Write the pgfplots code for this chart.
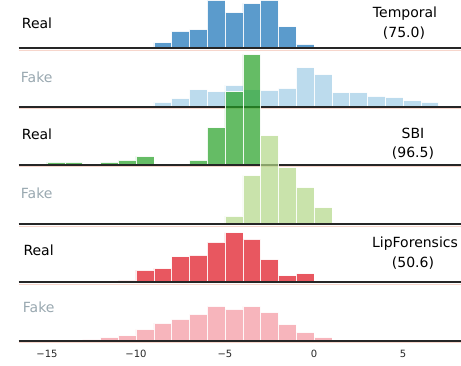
\documentclass[border=0pt]{standalone}
\usepackage{pgfplots}
\pgfplotsset{compat=1.18}
\usepackage{fontspec}
\setmainfont{DejaVu Sans}
\definecolor{cblue}{rgb}{0.086,0.443,0.714}
\definecolor{clblue}{rgb}{0.629,0.800,0.900}
\definecolor{cgreen}{rgb}{0.143,0.629,0.143}
\definecolor{clgreen}{rgb}{0.700,0.843,0.529}
\definecolor{cred}{rgb}{0.871,0.057,0.114}
\definecolor{cpink}{rgb}{0.957,0.586,0.629}
\definecolor{fakegray}{rgb}{0.60,0.66,0.69}
\definecolor{pinkline}{rgb}{0.97,0.84,0.80}
\pgfplotsset{
  row/.style={
    x=17.8pt, y=1pt,
    xmin=-16.6, xmax=8.3, ymin=0, ymax=120,
    enlargelimits=false, clip=false,
    hide y axis, axis x line*=bottom,
    x axis line style={draw=none},
    xtick=\empty, major tick length=0pt,
    anchor=south west,
  },
  hist/.style={ybar interval, fill=#1, fill opacity=0.7, draw=white, draw opacity=0.9, line width=0.5pt},
}
\newcommand{\baseline}{%
  \draw[pinkline, line width=0.5pt] (axis cs:-16.6,-1.5) -- (axis cs:8.3,-1.5);
  \draw[black!85, line width=1.9pt] (axis cs:-16.6,0) -- (axis cs:8.3,0);
}
\begin{document}
\begin{tikzpicture}
% Row 1: Temporal Real
\begin{axis}[row, at={(18.5pt,-48.3pt)}]
\addplot[hist=cblue] coordinates {(-9,5.7) (-8,17.3) (-7,19) (-6,48.3) (-5,36) (-4,45) (-3,48.3) (-2,21.7) (-1,4.3) (0,0)};
\baseline
\end{axis}
% Row 2: Temporal Fake
\begin{axis}[row, at={(18.5pt,-106.7pt)}]
\addplot[hist=clblue] coordinates {(-9,4.7) (-8,8.3) (-7,17) (-6,15) (-5,21.7) (-4,17) (-3,16.7) (-2,18.7) (-1,39) (0,32.3) (1,14) (2,14) (3,10.7) (4,9.3) (5,6) (6,4.7) (7,0)};
\baseline
\end{axis}
% Row 3: SBI Real
\begin{axis}[row, at={(18.5pt,-165pt)}]
\addplot[hist=cgreen] coordinates {(-15,3) (-14,3) (-13,0) (-12,3) (-11,5) (-10,8.7) (-9,0) (-8,0) (-7,5) (-6,37.3) (-5,73.3) (-4,110.7) (-3,0)};
\baseline
\end{axis}
% Row 4: SBI Fake
\begin{axis}[row, at={(18.5pt,-224.3pt)}]
\addplot[hist=clgreen] coordinates {(-5,8.3) (-4,49) (-3,88.7) (-2,56.7) (-1,37) (0,16.7) (1,0)};
\baseline
\end{axis}
% Row 5: LipForensics Real
\begin{axis}[row, at={(18.5pt,-282.3pt)}]
\addplot[hist=cred] coordinates {(-11,2.3) (-10,12.3) (-9,14) (-8,25.7) (-7,27.3) (-6,40.3) (-5,49.7) (-4,43.3) (-3,23) (-2,6.7) (-1,8.7) (0,0)};
\baseline
\end{axis}
% Row 6: LipForensics Fake
\begin{axis}[row, at={(18.5pt,-340.7pt)},
  xtick={-15,-10,-5,0,5},
  xticklabels={−15,−10,−5,0,5},
  xticklabel style={anchor=base, yshift=-17pt, font=\fontsize{10}{12}\selectfont, text=black!85}]
\addplot[hist=cpink] coordinates {(-13,1.7) (-12,3.3) (-11,5) (-10,11.3) (-9,17.7) (-8,21.7) (-7,26.7) (-6,34.7) (-5,31.7) (-4,34.3) (-3,28.3) (-2,16.3) (-1,8.3) (0,3.3) (1,0)};
\baseline
\end{axis}
% labels
\begin{scope}[every node/.style={font=\fontsize{14}{16}\selectfont, inner sep=0pt}]
\node[anchor=west] at (21.7pt,-23.3pt) {Real};
\node[anchor=west, text=fakegray] at (20.7pt,-77.7pt) {Fake};
\node[anchor=west] at (21.7pt,-134pt) {Real};
\node[anchor=west, text=fakegray] at (20.7pt,-193.3pt) {Fake};
\node[anchor=west] at (23.3pt,-250.7pt) {Real};
\node[anchor=west, text=fakegray] at (22.7pt,-307.3pt) {Fake};
\node at (405pt,-13.3pt) {Temporal};
\node at (404pt,-33.3pt) {(75.0)};
\node at (413pt,-133.3pt) {SBI};
\node at (413pt,-152.7pt) {(96.5)};
\node at (415pt,-244pt) {LipForensics};
\node at (413pt,-263.3pt) {(50.6)};
\end{scope}
\pgfresetboundingbox
\path[use as bounding box] (0pt,0pt) rectangle (461pt,-365pt);
\end{tikzpicture}
\end{document}
